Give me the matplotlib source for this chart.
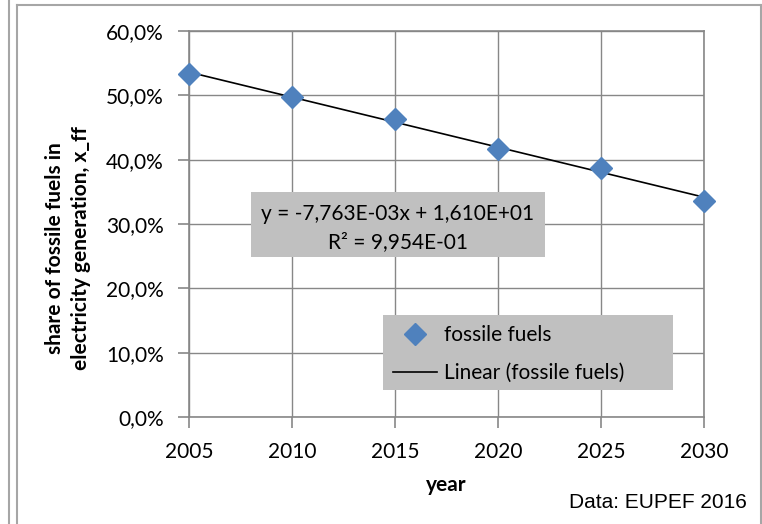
import numpy as np
import matplotlib
matplotlib.use("Agg")
import matplotlib.pyplot as plt
from matplotlib.lines import Line2D
from matplotlib.ticker import FuncFormatter

years = [2005, 2010, 2015, 2020, 2025, 2030]
fossil_share = [0.533, 0.497, 0.463, 0.417, 0.387, 0.336]
y_ticks = [0.0, 0.1, 0.2, 0.3, 0.4, 0.5, 0.6]
eq_text = "y = -7,763E-03x + 1,610E+01\nR² = 9,954E-01"

FONT = "Lato"
FS = 15
W, H = 762, 524
fig = plt.figure(figsize=(W / 100, H / 100), dpi=100)
fig.patch.set_facecolor("white")

def fx(px):
    return px / W

def fy(py):
    return 1 - py / H

ax = fig.add_axes([fx(189), fy(417), fx(704) - fx(189), fy(31) - fy(417)])
grid_c = "#878787"

# trendline
coef = np.polyfit(years, fossil_share, 1)
xx = np.array([years[0], years[-1]])
ax.plot(xx, np.polyval(coef, xx), color="black", lw=1.2, zorder=3,
        label="Linear (fossile fuels)")
ax.plot(years, fossil_share, linestyle="none", marker="D", ms=11,
        color="#4F81BD", zorder=4, label="fossile fuels", clip_on=False)

ax.set_xlim(2005, 2030)
ax.set_ylim(0, 0.6)
ax.set_xticks(years)
ax.set_yticks(y_ticks)
ax.yaxis.set_major_formatter(FuncFormatter(lambda v, p: f"{v*100:.1f}%".replace(".", ",")))
ax.grid(True, color=grid_c, lw=1)
ax.set_axisbelow(True)
for s in ax.spines.values():
    s.set_color(grid_c)
    s.set_linewidth(1.2)
ax.tick_params(axis="both", colors=grid_c, length=8, width=1.2, labelcolor="black",
               labelsize=FS, pad=10)
for lab in ax.get_xticklabels() + ax.get_yticklabels():
    lab.set_fontfamily(FONT)

fig.text(fx(446), fy(491), "year", ha="center", va="baseline", fontsize=FS,
         fontweight="bold", family=FONT)
fig.text(fx(68), fy(248), "share of fossile fuels in\nelectricity generation, x_ff",
         rotation=90, ha="center", va="center", fontsize=FS, fontweight="bold",
         family=FONT, linespacing=1.4)

# equation box
fig.patches.append(plt.Rectangle((fx(251), fy(257)), fx(545) - fx(251), fy(192) - fy(257),
                                 transform=fig.transFigure, facecolor="#c0c0c0",
                                 edgecolor="none", zorder=5))
fig.text(fx(398), fy(228), eq_text, ha="center", va="center", fontsize=FS,
         family=FONT, linespacing=1.5, zorder=6)

# legend box
fig.patches.append(plt.Rectangle((fx(383), fy(390)), fx(673) - fx(383), fy(315) - fy(390),
                                 transform=fig.transFigure, facecolor="#c0c0c0",
                                 edgecolor="none", zorder=5))
handles, labels = ax.get_legend_handles_labels()
leg = fig.legend(handles[::-1], labels[::-1], loc="center left",
                 bbox_to_anchor=(fx(393), fy(354)), frameon=False,
                 prop={"family": FONT, "size": FS}, handlelength=2.1,
                 handletextpad=0.35, labelspacing=0.85, borderaxespad=0, borderpad=0)
leg.set_zorder(7)

fig.text(fx(747), fy(503), "Data: EUPEF 2016", ha="right", va="center",
         fontsize=FS, family="Liberation Sans")

# outer frame lines
lc = "#a6a6a6"
fig.add_artist(Line2D([fx(9), fx(9)], [0, 1], color=lc, lw=1.5))
fig.add_artist(Line2D([fx(17), fx(17)], [0, fy(5)], color=lc, lw=1.5))
fig.add_artist(Line2D([fx(17), fx(761)], [fy(5), fy(5)], color=lc, lw=1.5))
fig.add_artist(Line2D([fx(760.5), fx(760.5)], [0, fy(5)], color=lc, lw=1.5))

fig.savefig("out.png", dpi=100)
